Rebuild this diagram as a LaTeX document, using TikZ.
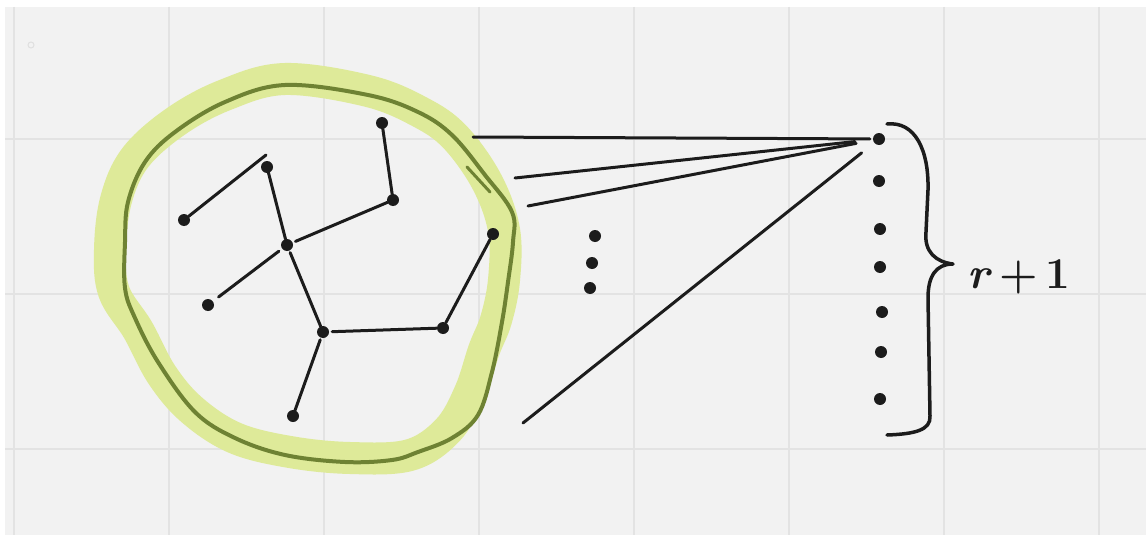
\documentclass[tikz,border=0pt]{standalone}
\usepackage{amsmath, amssymb}
\usepackage{tikz}
\usetikzlibrary{positioning}
\definecolor{board}{HTML}{F2F2F2}
\definecolor{gridline}{HTML}{E3E3E3}
\definecolor{ink}{HTML}{1C1C1C}
\definecolor{marker}{HTML}{DEEA99}
\definecolor{olive}{HTML}{6E8233}
\tikzset{vertex/.style={circle, fill=ink, inner sep=0pt, minimum size=12pt},
         edge/.style={ink, line width=3pt, line cap=round}}

\begin{document}
\begin{tikzpicture}[x=1pt, y=-1pt]

            \useasboundingbox (0,0) rectangle (1146,535);
            \fill[white] (0,0) rectangle (1146,535);
            \fill[board] (5,7) rectangle (1146,535);
            \foreach \x in {14,169,...,1100}
            \draw[gridline, line width=1.5pt] (\x,7) -- (\x,535);
            \foreach \y in {139,294,449}
            \draw[gridline, line width=1.5pt] (5,\y) -- (1146,\y);
            \draw[gray!25, line width=1pt] (31,45) circle (3);

            % highlighted blob
            \draw[marker, line width=32pt, line join=round] plot[smooth cycle, tension=0.6] coordinates {
              (285,79) (368,91) (420,112) (455,137) (487,182) (504,230) (504,280) (496,320)
              (484,350) (470,392) (448,430) (410,455) (350,458) (290,452) (235,438) (192,410)
              (162,375) (138,330) (114,292) (110,250) (116,200) (135,158) (175,122) (225,95)};
            \draw[olive, line width=4pt, line join=round] plot[smooth cycle, tension=0.6] coordinates {
              (285,85) (368,95) (418,112) (452,135) (485,175) (512,212) (513,242) (508,282)
              (502,322) (492,372) (478,415) (452,438) (418,452) (392,460) (345,462) (285,455)
              (235,438) (195,412) (158,362) (135,318) (125,288) (125,242) (128,202) (145,162)
              (175,132) (225,102)};
            \draw[olive, line width=3pt, line cap=round] (467,167) -- (490,192);

            % tree inside
            \node[vertex] (a) at (382,123) {};
            \node[vertex] (b) at (393,200) {};
            \node[vertex] (c) at (287,245) {};
            \node[vertex] (d) at (184,220) {};
            \node[vertex] (e) at (267,167) {};
            \node[vertex] (f) at (208,305) {};
            \node[vertex] (g) at (323,332) {};
            \node[vertex] (h) at (443,328) {};
            \node[vertex] (i) at (493,234) {};
            \node[vertex] (j) at (293,416) {};
            \coordinate (e0) at (266,155);

            \draw[edge] (d) -- (e0);
            \draw[edge, shorten <=-4pt] (e) -- (c);
            \draw[edge, shorten <=3pt] (c) -- (b);
            \draw[edge] (a) -- (b);
            \draw[edge, shorten <=7pt, shorten >=4pt] (f) -- (c);
            \draw[edge, shorten <=2pt] (c) -- (g);
            \draw[edge, shorten <=3pt] (g) -- (h);
            \draw[edge] (h) -- (i);
            \draw[edge, shorten <=2pt] (g) -- (j);

            % dots in between
            \node[vertex] (m1) at (595,236) {};
            \node[vertex] (m2) at (592,263) {};
            \node[vertex] (m3) at (590,288) {};

            % column on the right
            \foreach \n/\x/\y in {1/879/139, 2/879/181, 3/880/229, 4/880/267, 5/882/312, 6/881/352, 7/880/399}
            \node[vertex] (r\n) at (\x,\y) {};

            \coordinate (c1) at (473,137);
            \coordinate (c2) at (515,178);
            \coordinate (c3) at (528,206);
            \coordinate (c4) at (523,423);
            \draw[edge, shorten >=3pt] (c1) -- (r1);
            \draw[edge, shorten >=18pt] (c2) -- (r1);
            \draw[edge, shorten >=17pt] (c3) -- (r1);
            \draw[edge, shorten >=16pt] (c4) -- (r1);

            % brace and label
            \coordinate (tip) at (953,264);
            \draw[ink, line width=3.5pt, line cap=round, line join=round]
              (887,124) .. controls (915,121) and (929,150) .. (928,190) -- (926,232)
              .. controls (924,252) and (936,262) .. (tip)
              .. controls (936,264) and (928,276) .. (928,298) -- (930,416)
              .. controls (931,430) and (915,434) .. (887,435);
            \node[anchor=base west, inner sep=0pt, text=ink, font=\fontsize{44}{44}\selectfont\bfseries]
              (lbl) at (967,288) {\textit{r}\,+\,1};
            \end{tikzpicture}
\end{document}
